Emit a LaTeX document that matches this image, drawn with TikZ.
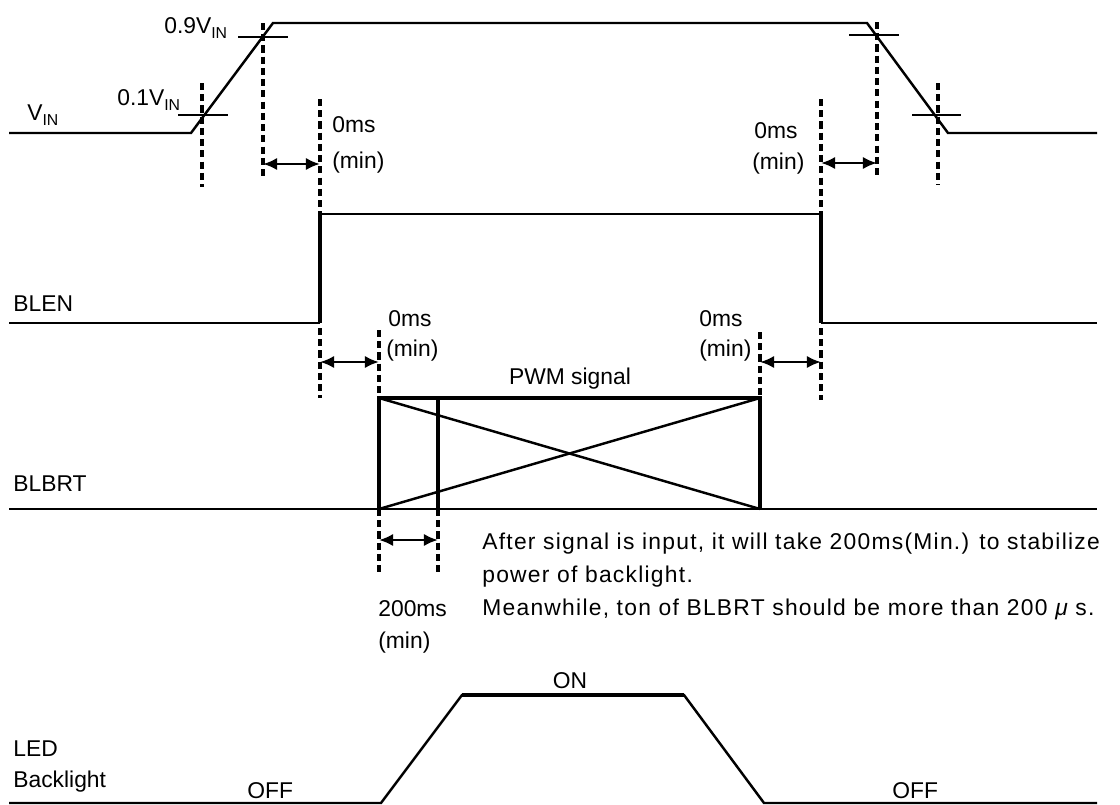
\documentclass[tikz,border=0pt]{standalone}
\usepackage{fontspec}
\setmainfont{Liberation Sans}
\newfontfamily\notefont[LetterSpace=5.5]{Liberation Sans}
\usetikzlibrary{arrows.meta}

\newcommand{\vinsub}{V\raisebox{-0.45ex}{\fontsize{9}{9}\selectfont IN}}

\begin{document}
\begin{tikzpicture}[x=0.02cm,y=-0.02cm,
    wave/.style={line width=1.4pt},
    bold/.style={line width=2pt},
    guide/.style={line width=1.8pt,dash pattern=on 4pt off 2.4pt},
    span/.style={line width=1.5pt,{Latex[length=8pt,width=7pt]}-{Latex[length=8pt,width=7pt]}},
    lbl/.style={font=\fontsize{13}{15}\selectfont,inner sep=0pt,anchor=base west},
    note/.style={lbl,font=\notefont\fontsize{13}{15}\selectfont}]
    \useasboundingbox (0,0) rectangle (1120,805);

    % V_IN
    \draw[wave] (9,133) -- (191,133) -- (273,23) -- (867,23) -- (948,133) -- (1097,133);
    \draw[wave] (238,37) -- (288,37);
    \draw[wave] (178,115) -- (228,115);
    \draw[wave] (849,35) -- (899,35);
    \draw[wave] (912,115) -- (961,115);
    \draw[guide] (202,83) -- (202,187);
    \draw[guide] (263,23) -- (263,180);
    \draw[guide] (877,22) -- (877,177);
    \draw[guide] (938,83) -- (938,185);
    \node[lbl] (vin) at (27,120) {\vinsub};
    \node[lbl] (vlow) at (117,105) {0.1\vinsub};
    \node[lbl] (vhigh) at (164,33) {0.9\vinsub};

    % BLEN
    \draw[wave] (9,323) -- (320,323);
    \draw[wave] (320,214) -- (821,214);
    \draw[wave] (821,323) -- (1097,323);
    \draw[bold] (320,323) -- (320,214);
    \draw[bold] (821,214) -- (821,323);
    \draw[guide] (320,99) -- (320,214);
    \draw[guide] (821,99) -- (821,214);
    \draw[guide] (320,328) -- (320,398);
    \draw[guide] (821,328) -- (821,400);
    \node[lbl] (blen) at (13,311) {BLEN};
    \coordinate (onl) at (263,164);
    \coordinate (onr) at (320,164);
    \coordinate (offl) at (821,163);
    \coordinate (offr) at (877,163);
    \draw[span] (onl) -- (onr);
    \draw[span] (offl) -- (offr);
    \node[lbl] (t1) at (332,132) {0ms};
    \node[lbl] (m1) at (332,168) {(min)};
    \node[lbl] (t2) at (754,138) {0ms};
    \node[lbl] (m2) at (752,169) {(min)};

    % BLBRT
    \draw[wave] (9,509) -- (1097,509);
    \draw[bold] (379,509) -- (379,398) -- (760,398) -- (760,509);
    \draw[bold] (438,398) -- (438,509);
    \draw[wave] (379,398) -- (760,509);
    \draw[wave] (379,509) -- (760,398);
    \draw[guide] (379,330) -- (379,398);
    \draw[guide] (760,332) -- (760,398);
    \draw[guide] (379,509) -- (379,575);
    \draw[guide] (438,509) -- (438,575);
    \node[lbl] (blbrt) at (13,491) {BLBRT};
    \node[lbl,anchor=base] (pwm) at (570,384) {PWM signal};
    \coordinate (pwml) at (320,362);
    \coordinate (pwmr) at (379,362);
    \coordinate (endl) at (760,362);
    \coordinate (endr) at (821,362);
    \coordinate (stl) at (379,540);
    \coordinate (str) at (438,540);
    \draw[span] (pwml) -- (pwmr);
    \draw[span] (endl) -- (endr);
    \draw[span] (stl) -- (str);
    \node[lbl] (t3) at (388,326) {0ms};
    \node[lbl] (m3) at (386,356) {(min)};
    \node[lbl] (t4) at (699,326) {0ms};
    \node[lbl] (m4) at (699,356) {(min)};
    \node[lbl] (t5) at (378,616) {200ms};
    \node[lbl] (m5) at (378,648) {(min)};
    \node[note] (n1) at (482,549) {After signal is input, it will take 200ms(Min.) to stabilize};
    \node[note] (n2) at (482,582) {power of backlight.};
    \node[note] (n3) at (482,615) {Meanwhile, ton of BLBRT should be more than 200 {\itshape μ} s.};

    % LED backlight
    \draw[wave] (9,803) -- (381,803) -- (462,695) -- (684,695) -- (764,803) -- (1097,803);
    \draw[bold] (462,695) -- (684,695);
    \node[lbl] (led) at (13,756) {LED};
    \node[lbl] (bl) at (13,787) {Backlight};
    \node[lbl,anchor=base] (on) at (570,688) {ON};
    \node[lbl] (off1) at (247,798) {OFF};
    \node[lbl] (off2) at (892,798) {OFF};
\end{tikzpicture}
\end{document}
